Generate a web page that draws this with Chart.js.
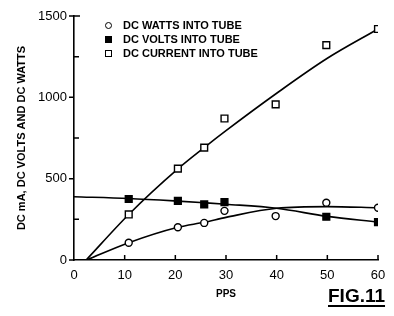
<!DOCTYPE html>
<html>
<head>
<meta charset="utf-8">
<script src="https://cdn.jsdelivr.net/npm/chart.js@4.4.1/dist/chart.umd.min.js"></script>
<style>
  body { margin: 0; background: #fff; }
  #wrap { position: relative; width: 394px; height: 316px; font-family: "Liberation Sans", Arial, sans-serif; }
  .legend { position: absolute; left: 105px; top: 18px; font-weight: bold; font-size: 11px; color: #000; }
  .legend div { height: 14px; line-height: 14px; white-space: nowrap; }
  .mk { display: inline-block; width: 7px; height: 7px; margin-right: 11px; box-sizing: border-box; }
  .circ { border: 1.5px solid #000; border-radius: 50%; }
  .fsq { background: #000; }
  .osq { border: 1.5px solid #000; }
  .fig { position: absolute; left: 328px; top: 285px; font-weight: bold; font-size: 19px; color: #000; text-decoration: underline; text-decoration-thickness: 2px; text-underline-offset: 3px; }
</style>
</head>
<body>
<div id="wrap">
  <canvas id="myChart" width="394" height="316"></canvas>
  <div class="legend">
    <div><span class="mk circ"></span>DC WATTS INTO TUBE</div>
    <div><span class="mk fsq"></span>DC VOLTS INTO TUBE</div>
    <div><span class="mk osq"></span>DC CURRENT INTO TUBE</div>
  </div>
  <div class="fig">FIG.11</div>
</div>
<script>
// measured points (PPS)
const ppsPoints = [10.8, 20.5, 25.7, 29.7, 39.8, 49.8, 60];
const wattsPoints = [106, 201, 228, 302, 270, 352, 321];
const currentPoints = [280, 562, 691, 870, 957, 1321, 1420];
const voltsPps = [10.8, 20.5, 25.7, 29.7, 49.8, 60];
const voltsPoints = [375, 363, 342, 356, 266, 233];

// hand-drawn fit curves
const currentCurvePps = [2.4, 10.8, 20.5, 25.7, 30, 40, 50, 60];
const currentCurve = [0, 280, 560, 691, 795, 1025, 1240, 1420];
const wattsCurvePps = [2.5, 10.8, 20.5, 25.7, 30, 40, 50, 60];
const wattsCurve = [0, 106, 201, 232, 262, 318, 328, 321];
const voltsCurvePps = [0, 10.8, 20.5, 25.7, 30, 40, 50, 60];
const voltsCurve = [389, 378, 362, 352, 343, 318, 268, 233];

// axis ticks
const xTicks = [0, 10, 20, 30, 40, 50, 60];
const yTicks = [0, 500, 1000, 1500];
const yMinorTicks = [250, 750, 1250];

const pts = (xs, ys) => xs.map((x, i) => ({ x: x, y: ys[i] }));

const tickMarks = {
    id: 'tickMarks',
    afterDraw(chart) {
        const { ctx, scales: { x, y } } = chart;
        ctx.save();
        ctx.strokeStyle = '#000';
        ctx.lineWidth = 1.5;
        ctx.beginPath();
        yTicks.forEach(v => {
            const py = y.getPixelForValue(v);
            ctx.moveTo(x.left - 5, py);
            ctx.lineTo(v === 1500 ? x.left + 6 : x.left, py);
        });
        yMinorTicks.forEach(v => {
            const py = y.getPixelForValue(v);
            ctx.moveTo(x.left, py);
            ctx.lineTo(x.left + 5, py);
        });
        xTicks.slice(1).forEach(v => {
            const px = x.getPixelForValue(v);
            ctx.moveTo(px, y.bottom);
            ctx.lineTo(px, y.bottom - 5);
        });
        ctx.stroke();
        ctx.restore();
    }
};

const curve = (data) => ({
    type: 'line',
    data: data,
    borderColor: '#000',
    borderWidth: 1.6,
    pointRadius: 0,
    fill: false,
    cubicInterpolationMode: 'monotone',
    order: 2
});

const marks = (data, style, bg, r) => ({
    type: 'scatter',
    data: data,
    pointStyle: style,
    pointRadius: r,
    pointBackgroundColor: bg,
    pointBorderColor: '#000',
    pointBorderWidth: 1.4,
    showLine: false,
    order: 0
});

new Chart(document.getElementById('myChart'), {
    type: 'scatter',
    data: {
        datasets: [
            curve(pts(currentCurvePps, currentCurve)),
            curve(pts(wattsCurvePps, wattsCurve)),
            curve(pts(voltsCurvePps, voltsCurve)),
            marks(pts(ppsPoints, wattsPoints), 'circle', '#fff', 3.5),
            marks(pts(voltsPps, voltsPoints), 'rect', '#000', 4.8),
            marks(pts(ppsPoints, currentPoints), 'rect', '#fff', 4.8)
        ]
    },
    options: {
        responsive: false,
        animation: false,
        devicePixelRatio: 1,
        layout: { padding: { left: 0, top: 16, right: 16, bottom: 0 } },
        plugins: { legend: { display: false }, tooltip: { enabled: false } },
        scales: {
            x: {
                type: 'linear',
                min: 0,
                max: 60,
                afterBuildTicks: s => { s.ticks = xTicks.map(v => ({ value: v })); },
                afterFit: s => { s.height = 56; },
                grid: { display: false, drawTicks: false },
                border: { display: true, color: '#000', width: 1.6 },
                ticks: { color: '#000', padding: 8, maxRotation: 0, callback: v => String(v), font: { family: 'Liberation Sans', size: 13 } },
                title: { display: true, text: 'PPS', color: '#000', padding: { top: 0, bottom: 16 }, font: { family: 'Liberation Sans', size: 10, weight: 'bold' } }
            },
            y: {
                min: 0,
                max: 1500,
                afterBuildTicks: s => { s.ticks = yTicks.map(v => ({ value: v })); },
                afterFit: s => { s.width = 74; },
                grid: { display: false, drawTicks: false },
                border: { display: true, color: '#000', width: 1.6 },
                ticks: { color: '#000', padding: 7, callback: v => String(v), font: { family: 'Liberation Sans', size: 13 } },
                title: { display: true, text: 'DC mA, DC VOLTS AND DC WATTS', color: '#000', padding: { top: 15, bottom: 0 }, font: { family: 'Liberation Sans', size: 11, weight: 'bold' } }
            }
        }
    },
    plugins: [tickMarks]
});
</script>
</body>
</html>
